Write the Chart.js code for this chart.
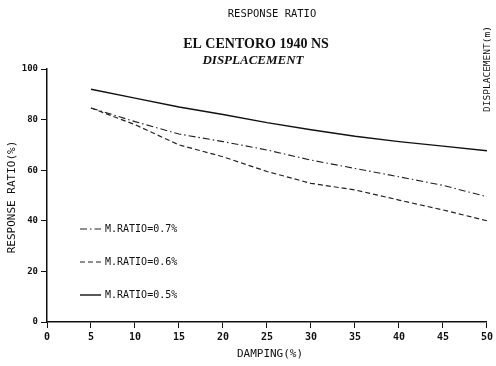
<!DOCTYPE html>
<html>
<head>
<meta charset="utf-8">
<script src="https://cdn.jsdelivr.net/npm/chart.js@4.4.0/dist/chart.umd.min.js"></script>
<style>
  html, body { margin: 0; background: #fff; }
  #wrap { width: 496px; height: 366px; }
</style>
</head>
<body>
<div id="wrap"><canvas id="chart"></canvas></div>
<script>
// valeurs
const damping = [5, 10, 15, 20, 25, 30, 35, 40, 45, 50];
const ratio07 = [84.6, 79.2, 74.3, 71.3, 68, 64, 60.7, 57.4, 54, 49.5];
const ratio06 = [84.6, 78, 70, 65.3, 59.5, 54.8, 52.2, 48.2, 44.3, 40];
const ratio05 = [92, 88.5, 85, 82, 78.8, 76, 73.4, 71.3, 69.5, 67.7];
const seriesLabels = ['M.RATIO=0.7%', 'M.RATIO=0.6%', 'M.RATIO=0.5%'];
const xTicks = [0, 5, 10, 15, 20, 25, 30, 35, 40, 45, 50];
const yTicks = [0, 20, 40, 60, 80, 100];

const MONO = '"DejaVu Sans Mono", monospace';
const INK = '#111';

function toPoints(ys) {
    return damping.map((d, i) => ({ x: d, y: ys[i] }));
}

// titres, légende et texte de droite
const decorPlugin = {
    id: 'decor',
    afterDraw(chart) {
        const ctx = chart.ctx;
        const area = chart.chartArea;
        ctx.save();
        ctx.fillStyle = INK;
        ctx.textBaseline = 'middle';

        ctx.textAlign = 'center';
        ctx.font = '10.5px ' + MONO;
        ctx.fillText('RESPONSE RATIO', 272, 14);
        ctx.font = 'bold 14px "Liberation Serif", serif';
        ctx.fillText('EL CENTORO 1940 NS', 256, 44);
        ctx.font = 'italic bold 13px "Liberation Serif", serif';
        ctx.fillText('DISPLACEMENT', 253, 61);

        ctx.font = '11px ' + MONO;
        ctx.fillText('DAMPING(%)', 270, 354);

        ctx.save();
        ctx.translate(12, 197);
        ctx.rotate(-Math.PI / 2);
        ctx.fillText('RESPONSE RATIO(%)', 0, 0);
        ctx.restore();

        ctx.save();
        ctx.translate(488, 69);
        ctx.rotate(-Math.PI / 2);
        ctx.font = '9.5px ' + MONO;
        ctx.fillText('DISPLACEMENT(m)', 0, 0);
        ctx.restore();

        // légende dans la zone du tracé
        ctx.textAlign = 'left';
        ctx.font = '10px ' + MONO;
        chart.data.datasets.forEach((ds, i) => {
            const y = area.top + 160 + i * 33;
            ctx.beginPath();
            ctx.setLineDash(ds.borderDash || []);
            ctx.lineWidth = ds.borderWidth;
            ctx.strokeStyle = ds.borderColor;
            ctx.moveTo(area.left + 33, y);
            ctx.lineTo(area.left + 54, y);
            ctx.stroke();
            ctx.setLineDash([]);
            ctx.fillText(ds.label, area.left + 58, y);
        });
        ctx.restore();
    }
};

new Chart(document.getElementById('chart'), {
    type: 'line',
    data: {
        datasets: [
            { label: seriesLabels[0], data: toPoints(ratio07), borderColor: '#222', borderWidth: 1.1, borderDash: [7, 3, 1.5, 3], pointRadius: 0, tension: 0 },
            { label: seriesLabels[1], data: toPoints(ratio06), borderColor: '#222', borderWidth: 1.2, borderDash: [5, 3], pointRadius: 0, tension: 0 },
            { label: seriesLabels[2], data: toPoints(ratio05), borderColor: '#111', borderWidth: 1.4, pointRadius: 0, tension: 0 }
        ]
    },
    options: {
        responsive: true,
        maintainAspectRatio: false,
        animation: false,
        layout: { padding: { left: 1, right: 5, top: 69, bottom: 0 } },
        plugins: {
            legend: { display: false },
            tooltip: { enabled: false }
        },
        scales: {
            x: {
                type: 'linear',
                min: 0, max: 50,
                afterBuildTicks: (scale) => { scale.ticks = xTicks.map(v => ({ value: v })); },
                afterFit: (scale) => { scale.height = 44; },
                border: { color: INK, width: 1.5 },
                grid: { drawOnChartArea: false, color: INK, tickLength: 6, lineWidth: 1 },
                ticks: { color: INK, font: { family: MONO, size: 10, weight: 'bold' }, padding: 3, maxRotation: 0 }
            },
            y: {
                min: 0, max: 100,
                afterBuildTicks: (scale) => { scale.ticks = yTicks.map(v => ({ value: v })); },
                afterFit: (scale) => { scale.width = 46; },
                border: { color: INK, width: 1.5 },
                grid: { drawOnChartArea: false, color: INK, tickLength: 6, lineWidth: 1 },
                ticks: { color: INK, font: { family: MONO, size: 9, weight: 'bold' }, padding: 3 }
            }
        }
    },
    plugins: [decorPlugin]
});
</script>
</body>
</html>
